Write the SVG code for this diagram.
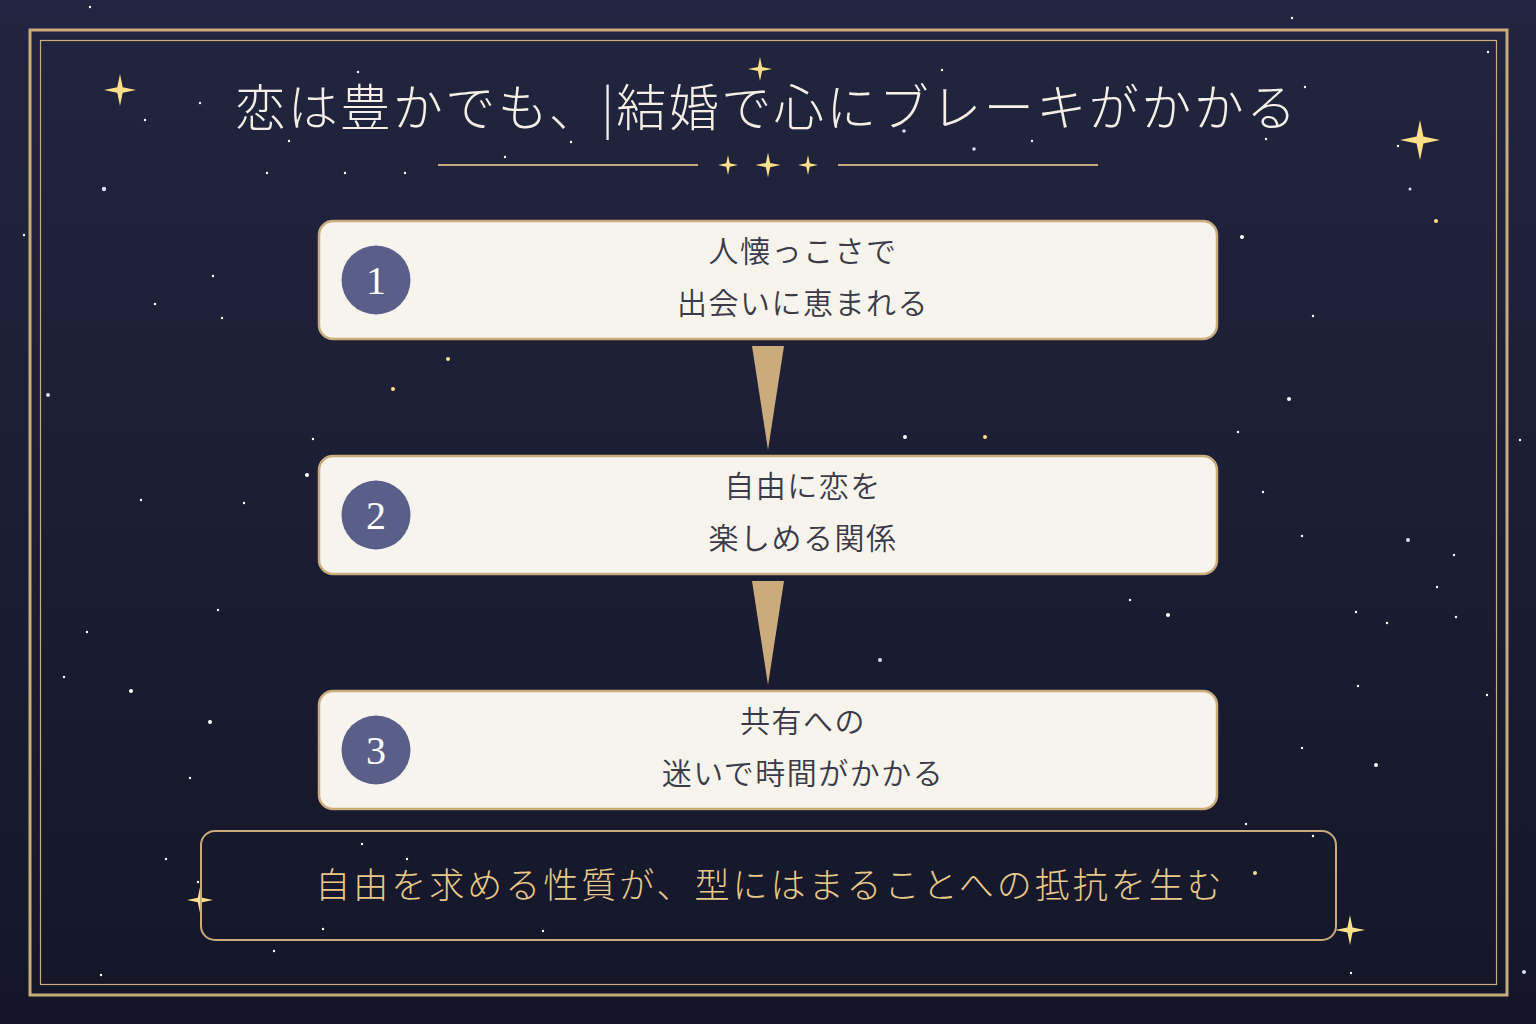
<svg xmlns="http://www.w3.org/2000/svg" width="1536" height="1024" viewBox="0 0 1536 1024">
<defs>
<linearGradient id="bg" x1="0" y1="0" x2="0" y2="1">
<stop offset="0" stop-color="#22253f"/>
<stop offset="1" stop-color="#141628"/>
</linearGradient>
<path id="spark" d="M0,-1 L0.17,-0.17 L1,0 L0.17,0.17 L0,1 L-0.17,0.17 L-1,0 L-0.17,-0.17 Z"/>
<style>
.frame{fill:none;stroke:#c9ab7c}
.box{fill:#f7f4ed;stroke:#c9ab7c;stroke-width:2.5}
.badge{fill:#5a5f8a}
.num{font-family:"Liberation Serif",serif;font-size:40px;fill:#ffffff;text-anchor:middle}
.lbl{font-family:"Noto Sans CJK JP",sans-serif;font-weight:350;font-size:30px;fill:#3a3a48;text-anchor:middle;letter-spacing:1.5px}
.title{font-family:"Noto Sans CJK JP",sans-serif;font-weight:300;font-size:50px;fill:#f5efe5;text-anchor:middle;letter-spacing:2.5px}
.note{font-family:"Noto Sans CJK JP",sans-serif;font-weight:300;font-size:35px;fill:#e8c98a;text-anchor:middle;letter-spacing:3px}
.sp{fill:#ffe08a}
.dot{fill:#ffffff}
.dotb{fill:#dcdcf5}
.arrow{fill:#c9ab7c}
</style>
</defs>
<rect width="1536" height="1024" fill="url(#bg)"/>
<g id="stars">
<circle class="dot" cx="90" cy="7" r="1.2"/>
<circle class="dot" cx="200" cy="103" r="1.2"/>
<circle class="dot" cx="145" cy="120" r="1.2"/>
<circle class="dotb" cx="104" cy="189" r="2.2"/>
<circle class="dot" cx="1292" cy="18" r="1.2"/>
<circle class="dot" cx="1488" cy="52" r="1.2"/>
<circle class="dot" cx="1305" cy="87" r="1.2"/>
<circle class="dot" cx="1398" cy="146" r="1.2"/>
<circle class="dotb" cx="1410" cy="189" r="1.5"/>
<circle class="sp" cx="1436" cy="221" r="2"/>
<circle class="dot" cx="1242" cy="237" r="2"/>
<circle class="dot" cx="24" cy="235" r="1.2"/>
<circle class="dot" cx="213" cy="276" r="1.2"/>
<circle class="dot" cx="155" cy="304" r="1.2"/>
<circle class="dot" cx="222" cy="318" r="1.2"/>
<circle class="dot" cx="1313" cy="316" r="1.2"/>
<circle class="sp" cx="448" cy="359" r="2"/>
<circle class="sp" cx="393" cy="389" r="2"/>
<circle class="dotb" cx="48" cy="395" r="2"/>
<circle class="dot" cx="1289" cy="399" r="2"/>
<circle class="dot" cx="905" cy="437" r="2"/>
<circle class="sp" cx="985" cy="437" r="2"/>
<circle class="dot" cx="313" cy="439" r="1.2"/>
<circle class="dot" cx="1238" cy="432" r="1.2"/>
<circle class="dot" cx="1520" cy="440" r="1.2"/>
<circle class="dot" cx="307" cy="475" r="2"/>
<circle class="dot" cx="141" cy="500" r="1.2"/>
<circle class="dot" cx="244" cy="503" r="1.2"/>
<circle class="dot" cx="1263" cy="492" r="1.2"/>
<circle class="dot" cx="1302" cy="536" r="1.2"/>
<circle class="dotb" cx="1408" cy="540" r="2"/>
<circle class="dot" cx="1454" cy="555" r="1.2"/>
<circle class="dot" cx="1437" cy="587" r="1.2"/>
<circle class="dot" cx="218" cy="610" r="1.2"/>
<circle class="dot" cx="1130" cy="600" r="1.2"/>
<circle class="dot" cx="87" cy="632" r="1.2"/>
<circle class="dot" cx="1387" cy="623" r="1.2"/>
<circle class="dotb" cx="880" cy="660" r="2"/>
<circle class="dot" cx="1168" cy="615" r="2"/>
<circle class="dot" cx="1356" cy="612" r="1.2"/>
<circle class="dot" cx="1456" cy="617" r="1.2"/>
<circle class="dot" cx="131" cy="691" r="2"/>
<circle class="dot" cx="1358" cy="686" r="1.2"/>
<circle class="dot" cx="210" cy="722" r="2"/>
<circle class="dot" cx="1302" cy="748" r="1.2"/>
<circle class="dot" cx="1376" cy="765" r="2"/>
<circle class="dot" cx="190" cy="778" r="1.2"/>
<circle class="dot" cx="64" cy="677" r="1.2"/>
<circle class="dot" cx="1487" cy="695" r="1.2"/>
<circle class="sp" cx="1255" cy="873" r="2"/>
<circle class="dot" cx="1313" cy="836" r="1.2"/>
<circle class="dot" cx="1246" cy="824" r="1.2"/>
<circle class="dot" cx="362" cy="844" r="1.2"/>
<circle class="dot" cx="407" cy="859" r="1.2"/>
<circle class="dot" cx="323" cy="929" r="1.2"/>
<circle class="dot" cx="543" cy="931" r="1.2"/>
<circle class="dot" cx="198" cy="882" r="1.2"/>
<circle class="dot" cx="166" cy="859" r="1.2"/>
<circle class="dot" cx="274" cy="951" r="1.2"/>
<circle class="dot" cx="101" cy="975" r="1.2"/>
<circle class="dotb" cx="1524" cy="972" r="2"/>
<circle class="dot" cx="1351" cy="973" r="1.2"/>
<circle class="dot" cx="358" cy="72" r="1.2"/>
<circle class="dot" cx="505" cy="157" r="1.2"/>
<circle class="dot" cx="571" cy="142" r="1.2"/>
<circle class="dot" cx="289" cy="141" r="1.2"/>
<circle class="dot" cx="405" cy="173" r="1.2"/>
<circle class="dot" cx="942" cy="70" r="1.2"/>
<circle class="dotb" cx="904" cy="131" r="1.8"/>
<circle class="dot" cx="1032" cy="141" r="1.2"/>
<circle class="dotb" cx="974" cy="149" r="1.8"/>
<circle class="dot" cx="1266" cy="139" r="1.2"/>
<circle class="dot" cx="267" cy="173" r="1.2"/>
<circle class="dot" cx="345" cy="173" r="1.2"/>
</g>
<g id="sparkles">
<use href="#spark" class="sp" transform="translate(120,90) scale(16)"/>
<use href="#spark" class="sp" transform="translate(760,69) scale(12)"/>
<use href="#spark" class="sp" transform="translate(1420,140) scale(20)"/>
<use href="#spark" class="sp" transform="translate(728,165) scale(10)"/>
<use href="#spark" class="sp" transform="translate(768,165) scale(12.5)"/>
<use href="#spark" class="sp" transform="translate(808,165) scale(10)"/>
<use href="#spark" class="sp" transform="translate(200,900) scale(13)"/>
<use href="#spark" class="sp" transform="translate(1350,930) scale(15)"/>
</g>
<g id="frame">
<rect class="frame" x="30" y="30" width="1477" height="965" stroke-width="3"/>
<rect class="frame" x="40.5" y="40.5" width="1456" height="944" stroke-width="1.2"/>
</g>
<g id="title">
<text class="title" x="767" y="126">恋は豊かでも、|結婚で心にブレーキがかかる</text>
<line x1="438" y1="165" x2="698" y2="165" stroke="#c9ab7c" stroke-width="2"/>
<line x1="838" y1="165" x2="1098" y2="165" stroke="#c9ab7c" stroke-width="2"/>
</g>
<g id="connectors">
<polygon class="arrow" points="752,346 784,346 768,450"/>
<polygon class="arrow" points="752,581 784,581 768,685"/>
</g>
<g id="node1">
<rect class="box" x="319" y="221" width="898" height="118" rx="14"/>
<circle class="badge" cx="376" cy="280" r="34.5"/>
<text class="num" x="376" y="294">1</text>
<text class="lbl" x="803" y="262">人懐っこさで</text>
<text class="lbl" x="803" y="314">出会いに恵まれる</text>
</g>
<g id="node2">
<rect class="box" x="319" y="456" width="898" height="118" rx="14"/>
<circle class="badge" cx="376" cy="515" r="34.5"/>
<text class="num" x="376" y="529">2</text>
<text class="lbl" x="803" y="497">自由に恋を</text>
<text class="lbl" x="803" y="549">楽しめる関係</text>
</g>
<g id="node3">
<rect class="box" x="319" y="691" width="898" height="118" rx="14"/>
<circle class="badge" cx="376" cy="750" r="34.5"/>
<text class="num" x="376" y="764">3</text>
<text class="lbl" x="803" y="732">共有への</text>
<text class="lbl" x="803" y="784">迷いで時間がかかる</text>
</g>
<g id="summary">
<rect x="201" y="831" width="1135" height="109" rx="14" fill="none" stroke="#c9ab7c" stroke-width="2"/>
<text class="note" x="770" y="898">自由を求める性質が、型にはまることへの抵抗を生む</text>
</g>
</svg>
